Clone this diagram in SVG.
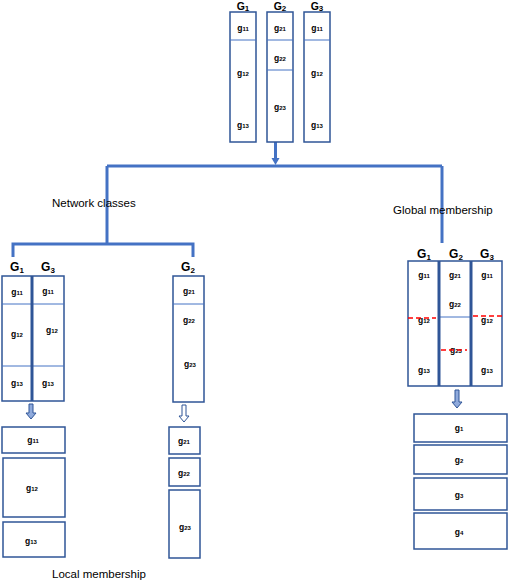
<svg xmlns="http://www.w3.org/2000/svg" width="508" height="582" viewBox="0 0 508 582">
<style>
.box{fill:#fff;stroke:#2F5597;stroke-width:1.5}
.thin{stroke:#4472C4;stroke-width:1;fill:none}
.thick{stroke:#2F5597;stroke-width:3;fill:none}
.red{stroke:#FF0000;stroke-width:1.5;stroke-dasharray:5 3;fill:none}
.con{stroke:#4472C4;stroke-width:3;fill:none}
.g{font-family:"Liberation Sans",Arial,sans-serif;font-size:8.5px;font-weight:bold;text-anchor:middle;fill:#000}
.G{font-family:"Liberation Sans",Arial,sans-serif;font-size:12px;font-weight:bold;text-anchor:middle;fill:#000}
.Gt{font-family:"Liberation Sans",Arial,sans-serif;font-size:10.5px;font-weight:bold;text-anchor:middle;fill:#000}
.lbl{font-family:"Liberation Sans",Arial,sans-serif;font-size:11.5px;fill:#000}
.sub{font-size:6px}
.Gsub{font-size:8px}
.barrow{fill:#8FAADC;stroke:#2F5597;stroke-width:1}
.harrow{fill:#fff;stroke:#2F5597;stroke-width:1}
</style>
<g id="connectors">
<path class="con" d="M275.5,142 V159"/>
<polygon points="271.5,158 279.5,158 275.5,165" fill="#4472C4"/>
<path class="con" d="M107,166 H442"/>
<path class="con" d="M107,166 V244"/>
<path class="con" d="M442,166 V243"/>
<path class="con" d="M13,257 V244 H193 V257"/>
<polygon class="barrow" points="29,404 33,404 33,413 36,413 31,419 26,413 29,413"/>
<polygon class="harrow" points="182,405 186,405 186,416 189,416 184,422 179,416 182,416"/>
<polygon class="barrow" points="455,390 459,390 459,402 462,402 457,408 452,402 455,402"/>
</g>
<g id="top-G1">
<text class="Gt" x="243" y="10">G<tspan class="Gsub" dy="1">1</tspan></text>
<rect class="box" x="230" y="12" width="26" height="130"/>
<line class="thin" x1="230" y1="40" x2="256" y2="40"/>
<text class="g" x="243" y="31">g<tspan class="sub">11</tspan></text>
<text class="g" x="243" y="76">g<tspan class="sub">12</tspan></text>
<text class="g" x="243" y="128">g<tspan class="sub">13</tspan></text>
</g>
<g id="top-G2">
<text class="Gt" x="280" y="10">G<tspan class="Gsub" dy="1">2</tspan></text>
<rect class="box" x="267" y="12" width="26" height="130"/>
<line class="thin" x1="267" y1="40" x2="293" y2="40"/>
<line class="thin" x1="267" y1="70" x2="293" y2="70"/>
<text class="g" x="280" y="31">g<tspan class="sub">21</tspan></text>
<text class="g" x="280" y="61">g<tspan class="sub">22</tspan></text>
<text class="g" x="280" y="110">g<tspan class="sub">23</tspan></text>
</g>
<g id="top-G3">
<text class="Gt" x="317" y="10">G<tspan class="Gsub" dy="1">3</tspan></text>
<rect class="box" x="304" y="12" width="26" height="130"/>
<line class="thin" x1="304" y1="40" x2="330" y2="40"/>
<text class="g" x="317" y="31">g<tspan class="sub">11</tspan></text>
<text class="g" x="317" y="76">g<tspan class="sub">12</tspan></text>
<text class="g" x="317" y="128">g<tspan class="sub">13</tspan></text>
</g>
<g id="labels">
<text class="lbl" x="52" y="207">Network classes</text>
<text class="lbl" x="393" y="214">Global membership</text>
<text class="lbl" x="52" y="578" font-size="12">Local membership</text>
</g>
<g id="local-G1G3">
<text class="G" x="17" y="271">G<tspan class="Gsub" dy="2">1</tspan></text>
<text class="G" x="48" y="271">G<tspan class="Gsub" dy="2">3</tspan></text>
<rect class="box" x="2" y="276" width="62" height="125"/>
<line class="thin" x1="2" y1="304" x2="64" y2="304"/>
<line class="thin" x1="2" y1="366" x2="64" y2="366"/>
<line class="thick" x1="32" y1="276" x2="32" y2="401"/>
<text class="g" x="17" y="295">g<tspan class="sub">11</tspan></text>
<text class="g" x="17" y="337">g<tspan class="sub">12</tspan></text>
<text class="g" x="17" y="386">g<tspan class="sub">13</tspan></text>
<text class="g" x="48" y="294">g<tspan class="sub">11</tspan></text>
<text class="g" x="52" y="333">g<tspan class="sub">12</tspan></text>
<text class="g" x="48" y="386">g<tspan class="sub">13</tspan></text>
</g>
<g id="local-G2">
<text class="G" x="188" y="271">G<tspan class="Gsub" dy="2">2</tspan></text>
<rect class="box" x="173" y="276" width="31" height="126"/>
<line class="thin" x1="173" y1="304" x2="204" y2="304"/>
<text class="g" x="189" y="294">g<tspan class="sub">21</tspan></text>
<text class="g" x="189" y="323">g<tspan class="sub">22</tspan></text>
<text class="g" x="190" y="367">g<tspan class="sub">23</tspan></text>
</g>
<g id="global">
<text class="G" x="424" y="258">G<tspan class="Gsub" dy="2">1</tspan></text>
<text class="G" x="456" y="258">G<tspan class="Gsub" dy="2">2</tspan></text>
<text class="G" x="487" y="258">G<tspan class="Gsub" dy="2">3</tspan></text>
<rect class="box" x="408" y="261" width="94" height="125"/>
<line class="thin" x1="439" y1="317" x2="471" y2="317"/>
<line class="thick" x1="439" y1="261" x2="439" y2="386"/>
<line class="thick" x1="471" y1="261" x2="471" y2="386"/>
<text class="g" x="424" y="278">g<tspan class="sub">11</tspan></text>
<text class="g" x="424" y="323">g<tspan class="sub">12</tspan></text>
<text class="g" x="424" y="373">g<tspan class="sub">13</tspan></text>
<text class="g" x="455" y="278">g<tspan class="sub">21</tspan></text>
<text class="g" x="455" y="307">g<tspan class="sub">22</tspan></text>
<text class="g" x="456" y="353">g<tspan class="sub">23</tspan></text>
<text class="g" x="487" y="278">g<tspan class="sub">11</tspan></text>
<text class="g" x="487" y="323">g<tspan class="sub">12</tspan></text>
<text class="g" x="487" y="373">g<tspan class="sub">13</tspan></text>
<line class="red" x1="408" y1="318" x2="436" y2="318"/>
<line class="red" x1="473" y1="316" x2="502" y2="316"/>
<line class="red" x1="441" y1="350" x2="467" y2="350"/>
</g>
<g id="local-out-G1">
<rect class="box" x="2" y="427" width="63" height="26"/>
<text class="g" x="33" y="443">g<tspan class="sub">11</tspan></text>
<rect class="box" x="3" y="458" width="62" height="59"/>
<text class="g" x="32" y="491">g<tspan class="sub">12</tspan></text>
<rect class="box" x="3" y="522" width="62" height="35"/>
<text class="g" x="31" y="544">g<tspan class="sub">13</tspan></text>
</g>
<g id="local-out-G2">
<rect class="box" x="169" y="427" width="31" height="27"/>
<text class="g" x="184" y="444">g<tspan class="sub">21</tspan></text>
<rect class="box" x="169" y="458" width="31" height="28"/>
<text class="g" x="184" y="476">g<tspan class="sub">22</tspan></text>
<rect class="box" x="169" y="490" width="31" height="68"/>
<text class="g" x="185" y="530">g<tspan class="sub">23</tspan></text>
</g>
<g id="global-out">
<rect class="box" x="414" y="414" width="93" height="28"/>
<text class="g" x="459" y="431">g<tspan class="sub">1</tspan></text>
<rect class="box" x="414" y="445" width="93" height="29"/>
<text class="g" x="459" y="463">g<tspan class="sub">2</tspan></text>
<rect class="box" x="414" y="478" width="93" height="32"/>
<text class="g" x="459" y="498">g<tspan class="sub">3</tspan></text>
<rect class="box" x="414" y="513" width="93" height="36"/>
<text class="g" x="459" y="535">g<tspan class="sub">4</tspan></text>
</g>
</svg>
